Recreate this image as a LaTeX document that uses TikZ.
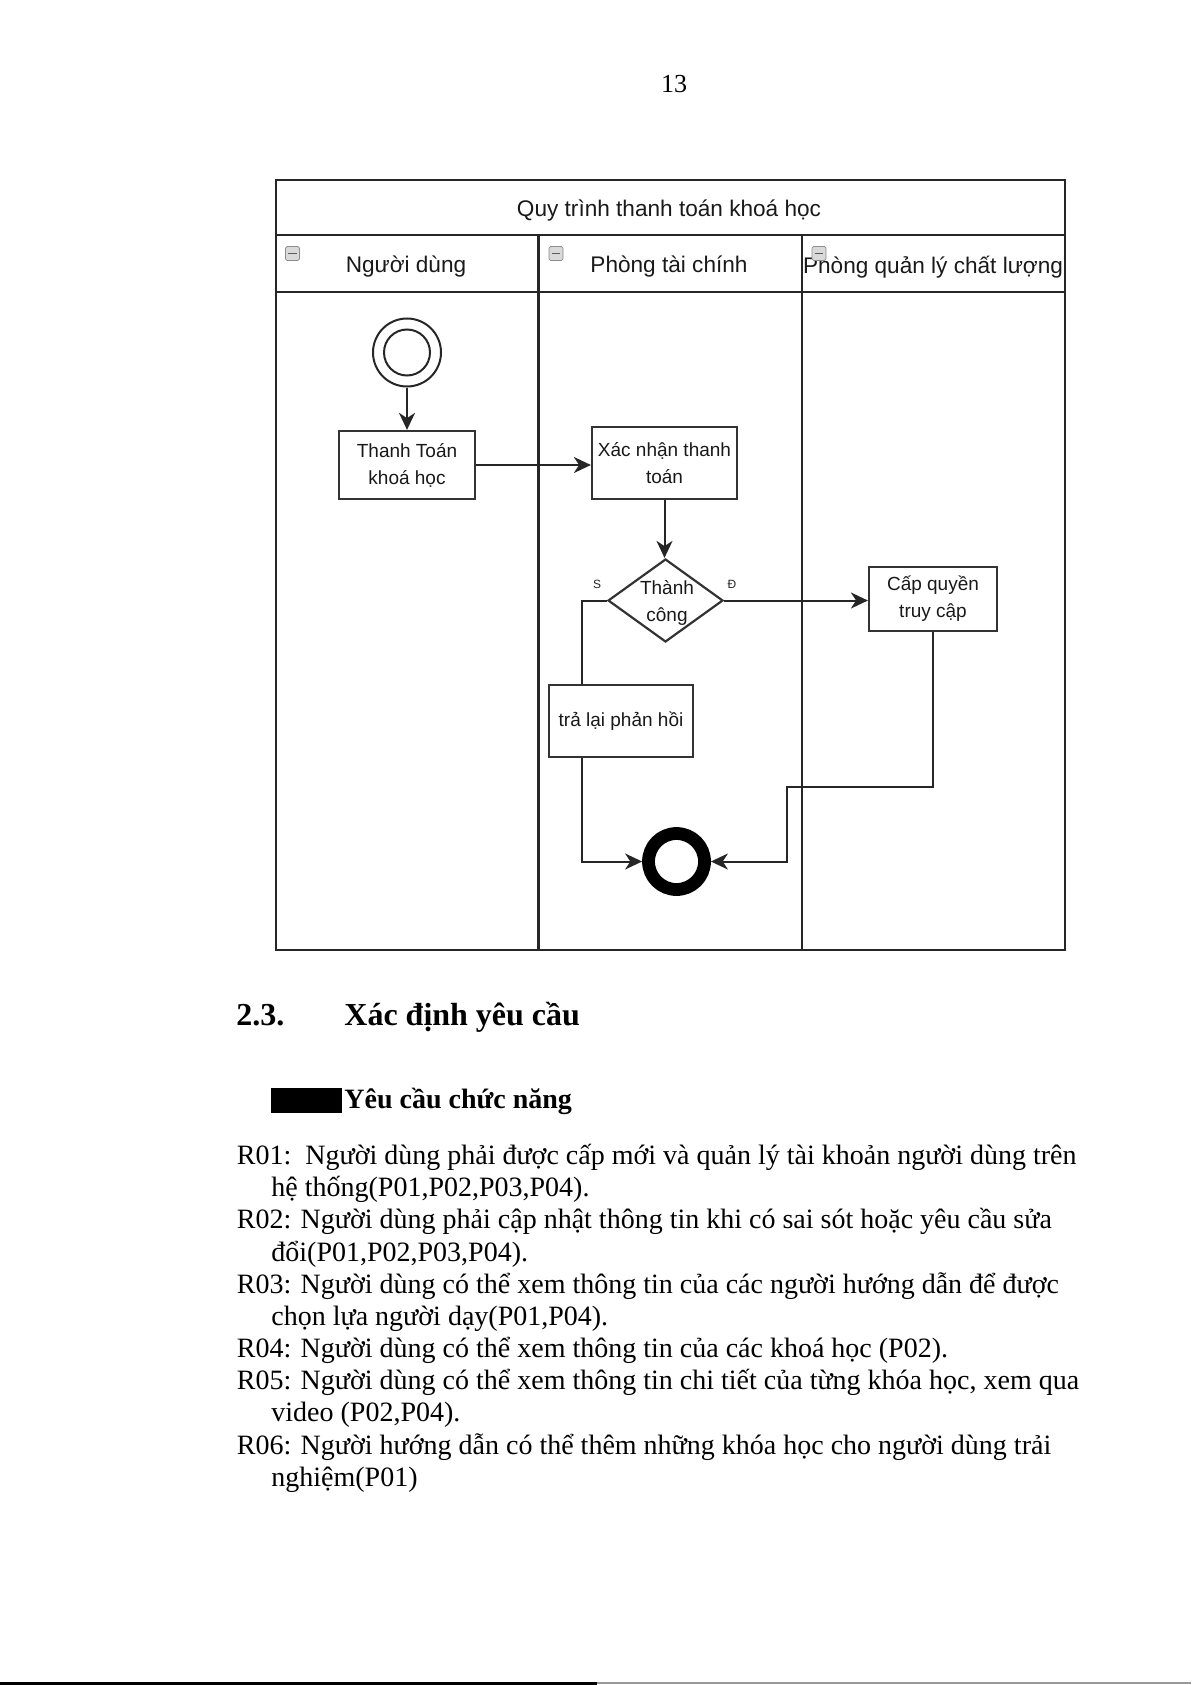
\documentclass[tikz,border=0pt]{standalone}
\usepackage{fontspec}
\setmainfont{Liberation Serif}
\newfontfamily\diag{Liberation Sans}
\usetikzlibrary{arrows.meta,shapes.geometric,calc}
\begin{document}
\begin{tikzpicture}[x=0.5pt,y=-0.5pt,
  lane/.style={draw=black!85, line width=1.3pt},
  actbox/.style={draw=black!80, line width=1.1pt, fill=white, font=\diag\fontsize{9.5}{13.5}\selectfont, align=center, inner sep=0pt, text=black!90},
  flow/.style={draw=black!85, line width=1pt},
  arr/.style={flow, -{Stealth[length=8.5pt,width=8pt,inset=2.6pt]}},
  hdr/.style={font=\diag\fontsize{11.3}{13}\selectfont, text=black!90, inner sep=0pt},
  minus/.style={draw=black!45, fill=black!15, minimum size=7pt, inner sep=0pt, rounded corners=0.8pt,
    path picture={\draw[black!65, line width=0.9pt] ($(path picture bounding box.west)+(1.4pt,0)$) -- ($(path picture bounding box.east)+(-1.4pt,0)$);}},
  body/.style={anchor=base west, inner sep=0pt, font=\fontsize{14}{16}\selectfont},
  small/.style={font=\diag\fontsize{6}{7}\selectfont, inner sep=0pt, text=black!85}
]
\useasboundingbox (0,0) rectangle (1191,1685);

% page number
\node[anchor=base, inner sep=0pt, font=\fontsize{13}{16}\selectfont] (pgno) at (674,93) {13};

% swimlane frame
\draw[lane] (276,180) rectangle (1065,950);
\draw[lane] (276,235) -- (1065,235);
\draw[lane] (276,292) -- (1065,292);
\draw[lane] (538.5,235) -- (538.5,950);
\draw[lane] (802,235) -- (802,950);

\node[hdr] (title) at (669,211) {Quy trình thanh toán khoá học};
\node[hdr] (h1) at (406,267) {Người dùng};
\node[hdr] (h2) at (669,267) {Phòng tài chính};
\node[hdr] (h3) at (933,267) {Phòng quản lý chất lượng};
\node[minus] (m1) at (292.5,253.5) {};
\node[minus] (m2) at (556,253.5) {};
\node[minus] (m3) at (819,253.5) {};

% nodes
\node[circle, draw=black!85, line width=1pt, minimum size=34pt, inner sep=0pt] (start) at (407,352.5) {};
\node[circle, draw=black!85, line width=1pt, minimum size=23pt, inner sep=0pt] (startin) at (start) {};
\node[actbox, minimum width=68pt, minimum height=34pt] (tt) at (407,465) {\raisebox{-1pt}{\shortstack{}}Thanh Toán\\khoá học};
\node[actbox, minimum width=72.5pt, minimum height=36pt] (xn) at (664.5,463) {Xác nhận thanh\\toán};
\node[diamond, draw=black!80, line width=1.1pt, minimum width=57.5pt, minimum height=41.5pt, inner sep=0pt, fill=white] (dia) at (665.5,600.5) {};
\node[font=\diag\fontsize{9.5}{13.5}\selectfont, align=center, inner sep=0pt, text=black!90] (diat) at (667,603) {Thành\\công};
\node[actbox, minimum width=64pt, minimum height=32pt] (cq) at (933,599) {Cấp quyền\\truy cập};
\node[actbox, minimum width=72pt, minimum height=36pt] (tl) at (621,721) {trả lại phản hồi};
\node[circle, draw=black, line width=6.4pt, minimum size=28pt, inner sep=0pt] (end) at (676.5,861.5) {};

\node[small] (lbS) at (597,584) {S};
\node[small] (lbD) at (732,584) {Đ};

% connectors
\draw[arr] (start) -- (tt);
\draw[arr] (tt.east) -- (tt.east -| xn.west);
\draw[arr] (xn.south) -- (xn.south |- dia.north);
\draw[arr] (dia.east) -- (dia.east -| cq.west);
\coordinate (tlN) at ($(tl.north west)+(34,0)$);
\coordinate (tlS) at ($(tl.south west)+(34,0)$);
\draw[flow] (dia.west) -| (tlN);
\draw[arr] (tlS) |- (end.west);
\coordinate (bend1) at (787,787);
\draw[arr] (cq.south) |- (bend1) |- (end.east);

% text below
\node[anchor=base west, inner sep=0pt, font=\bfseries\fontsize{16}{18}\selectfont] (secno) at (236,1025) {2.3.};
\node[anchor=base west, inner sep=0pt, font=\bfseries\fontsize{16}{18}\selectfont] (sect) at (344,1025) {Xác định yêu cầu};
\node[fill=black, minimum width=35.5pt, minimum height=12.2pt, inner sep=0pt, anchor=north west] (blk) at (271,1088) {};
\node[anchor=base west, inner sep=0pt, font=\bfseries\fontsize{14}{16}\selectfont] (sub) at (344,1108) {Yêu cầu chức năng};

\node[body] (l1) at (236.5,1164.6) {R01:\ \ Người dùng phải được cấp mới và quản lý tài khoản người dùng trên};
\node[body] (l2) at (271,1196.8) {hệ thống(P01,P02,P03,P04).};
\node[body] (l3) at (236.5,1228.9) {R02: Người dùng phải cập nhật thông tin khi có sai sót hoặc yêu cầu sửa};
\node[body] (l4) at (271,1261.1) {đổi(P01,P02,P03,P04).};
\node[body] (l5) at (236.5,1293.2) {R03: Người dùng có thể xem thông tin của các người hướng dẫn để được};
\node[body] (l6) at (271,1325.4) {chọn lựa người dạy(P01,P04).};
\node[body] (l7) at (236.5,1357.5) {R04: Người dùng có thể xem thông tin của các khoá học (P02).};
\node[body] (l8) at (236.5,1389.7) {R05: Người dùng có thể xem thông tin chi tiết của từng khóa học, xem qua};
\node[body] (l9) at (271,1421.8) {video (P02,P04).};
\node[body] (l10) at (236.5,1454) {R06: Người hướng dẫn có thể thêm những khóa học cho người dùng trải};
\node[body] (l11) at (271,1486.1) {nghiệm(P01)};

\draw[black, line width=1.5pt] (0,1683) -- (597,1683);
\draw[black!40, line width=1pt] (597,1683) -- (1191,1683);
\end{tikzpicture}
\end{document}
